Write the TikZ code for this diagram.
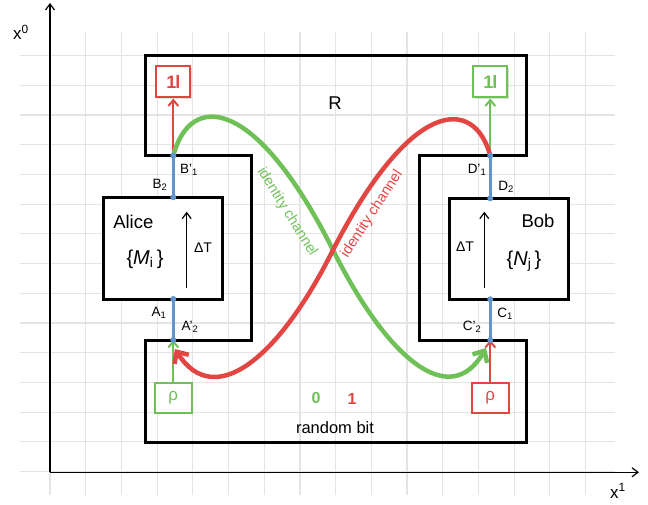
\documentclass[tikz,border=0pt]{standalone}
\usepackage{fontspec}
\setmainfont{Liberation Sans}
\usetikzlibrary{arrows.meta,shadows}
\definecolor{gc}{RGB}{112,192,88}
\definecolor{rc}{RGB}{226,70,66}
\definecolor{bc}{RGB}{98,148,205}
\definecolor{gridc}{RGB}{228,228,228}
\newcommand{\myfs}[1]{\fontsize{#1}{#1}\selectfont}
\begin{document}
\begin{tikzpicture}[x=1pt,y=-1pt,
  gridline/.style={draw=gridc,line width=1.2pt},
  axis/.style={draw=black,line width=1.2pt,-{Straight Barb[length=6pt,width=9pt]}},
  axlabel/.style={inner sep=0pt,font=\myfs{17}},
  frame/.style={draw=black,line width=3pt,line join=miter},
  pbox/.style={draw=black,line width=3pt,fill=white,inner sep=0pt},
  big/.style={inner sep=0pt,font=\myfs{18.5}},
  mset/.style={inner sep=0pt,font=\myfs{20}},
  dt/.style={inner sep=0pt,font=\myfs{14}},
  tarrow/.style={draw=black,line width=1.2pt,-{Straight Barb[length=6pt,width=9pt]}},
  wire/.style={draw=bc,line width=3pt},
  lab/.style={inner sep=0pt,font=\myfs{13.5}},
  idbox/.style={line width=2pt,fill=white,inner sep=0pt,minimum width=34pt,minimum height=31pt,
     font=\myfs{18}\bfseries,drop shadow={shadow xshift=1.2pt,shadow yshift=-1.2pt,opacity=0.25}},
  rhobox/.style={line width=2pt,fill=white,inner sep=0pt,minimum width=37pt,minimum height=30pt,
     font=\myfs{17},drop shadow={shadow xshift=1.2pt,shadow yshift=-1.2pt,opacity=0.25}},
  thinarrow/.style={line width=2pt,-{Straight Barb[length=6pt,width=10pt]}},
  curve/.style={line width=4.5pt,line cap=round,-{Straight Barb[length=9pt,width=17pt]}},
  ich/.style={inner sep=0pt,font=\myfs{14.5}},
  bit/.style={inner sep=0pt,font=\myfs{16}\bfseries},
  dotc/.style={fill=bc}
]
\useasboundingbox (0,0) rectangle (648,505);
% grid
\foreach \k in {0,...,15} \draw[gridline] ({50+35.7*\k},31.7) -- ({50+35.7*\k},495);
\foreach \k in {0,...,14} \draw[gridline] (20,{55.7+29.7*\k}) -- (615,{55.7+29.7*\k});
% axes
\coordinate (O) at (50,472.3);
\coordinate (Ytip) at (50,3);
\coordinate (Xtip) at (639,472.3);
\draw[axis] (O) -- (Ytip);
\draw[axis] (O) -- (Xtip);
\node[axlabel] (x0) at (21,32) {x\textsuperscript{0}};
\node[axlabel] (x1) at (618,491) {x\textsuperscript{1}};
% frame R / random bit
\draw[frame] (145,55.7) -- (526,55.7) -- (526,155.7) -- (419,155.7) -- (419,340) -- (526,340)
  -- (526,442.7) -- (145,442.7) -- (145,340) -- (251.7,340) -- (251.7,155.7) -- (145,155.7) -- cycle;
% Alice and Bob
\node[pbox,minimum width=119.4pt,minimum height=101.7pt] (alice) at (163,248.2) {};
\node[pbox,minimum width=119.3pt,minimum height=101pt] (bob) at (508.7,248.8) {};
\node[big] (alicet) at (133.3,221.5) {Alice};
\node[mset] (mi) at (145,259) {\{\textit{M}\textsubscript{i}\,\}};
\node[dt] (dtA) at (203,247.5) {ΔT};
\coordinate (tA0) at (186.7,287.7);
\coordinate (tA1) at (186.7,211.7);
\draw[tarrow] (tA0) -- (tA1);
\node[big] (bobt) at (538,221) {Bob};
\node[mset] (nj) at (524,261) {\{\textit{N}\textsubscript{j}\,\}};
\node[dt] (dtB) at (465,247) {ΔT};
\coordinate (tB0) at (484.3,287.7);
\coordinate (tB1) at (484.3,211.7);
\draw[tarrow] (tB0) -- (tB1);
% texts in frame
\node[big] (R) at (335,103) {R};
\node[bit,text=gc] (b0) at (316,398) {0};
\node[bit,text=rc] (b1) at (352,399) {1};
\node[inner sep=0pt,font=\myfs{16.5}] (rb) at (335,428) {random bit};
% wire points
\coordinate (B1p) at (173.3,155.7);
\coordinate (B2) at (173.3,197.3);
\coordinate (A1) at (173.3,299);
\coordinate (A2p) at (173.3,340);
\coordinate (D1p) at (490.3,155.7);
\coordinate (D2) at (490.3,198.3);
\coordinate (C1) at (490.3,299.3);
\coordinate (C2p) at (490.3,340);
\draw[wire] (B1p) -- (B2);
\draw[wire] (A1) -- (A2p);
\draw[wire] (D1p) -- (D2);
\draw[wire] (C1) -- (C2p);
% identity and rho boxes
\node[idbox,draw=rc,text=rc] (idA) at (173.3,82) {1\kern-1pt l};
\node[idbox,draw=gc,text=gc] (idB) at (490.3,82) {1\kern-1pt l};
\node[rhobox,draw=gc,text=gc] (rhoA) at (173.3,398) {ρ};
\node[rhobox,draw=rc,text=rc] (rhoB) at (490.3,398) {ρ};
\draw[rc,thinarrow] (B1p) -- (idA.south);
\draw[gc,thinarrow] (D1p) -- (idB.south);
\draw[gc,thinarrow] (rhoA.north) -- (A2p);
\draw[rc,thinarrow] (rhoB.north) -- (C2p);
% identity channels
\coordinate (X) at (333,250);
\coordinate (gEnd) at (486,348);
\coordinate (rEnd) at (175,349);
\draw[curve,gc] (B1p) .. controls (190,92) and (255,95) .. (X) .. controls (388,360) and (450,410) .. (gEnd);
\draw[curve,rc] (D1p) .. controls (474,96) and (411,98) .. (X) .. controls (278,360) and (214,410) .. (rEnd);
\node[ich,text=gc,rotate=-58] (ichG) at (287,212) {identity channel};
\node[ich,text=rc,rotate=57] (ichR) at (372,214) {identity channel};
% dots
\foreach \p in {B1p,B2,A1,A2p,D1p,D2,C1,C2p} \fill[dotc] (\p) circle (3pt);
% labels
\node[lab] (lB1) at (189,170) {B'\textsubscript{1}};
\node[lab] (lB2) at (160,185) {B\textsubscript{2}};
\node[lab] (lA1) at (159,313) {A\textsubscript{1}};
\node[lab] (lA2) at (190,327) {A'\textsubscript{2}};
\node[lab] (lD1) at (477,170) {D'\textsubscript{1}};
\node[lab] (lD2) at (506,187) {D\textsubscript{2}};
\node[lab] (lC1) at (505,314) {C\textsubscript{1}};
\node[lab] (lC2) at (472,327) {C'\textsubscript{2}};
\end{tikzpicture}
\end{document}
